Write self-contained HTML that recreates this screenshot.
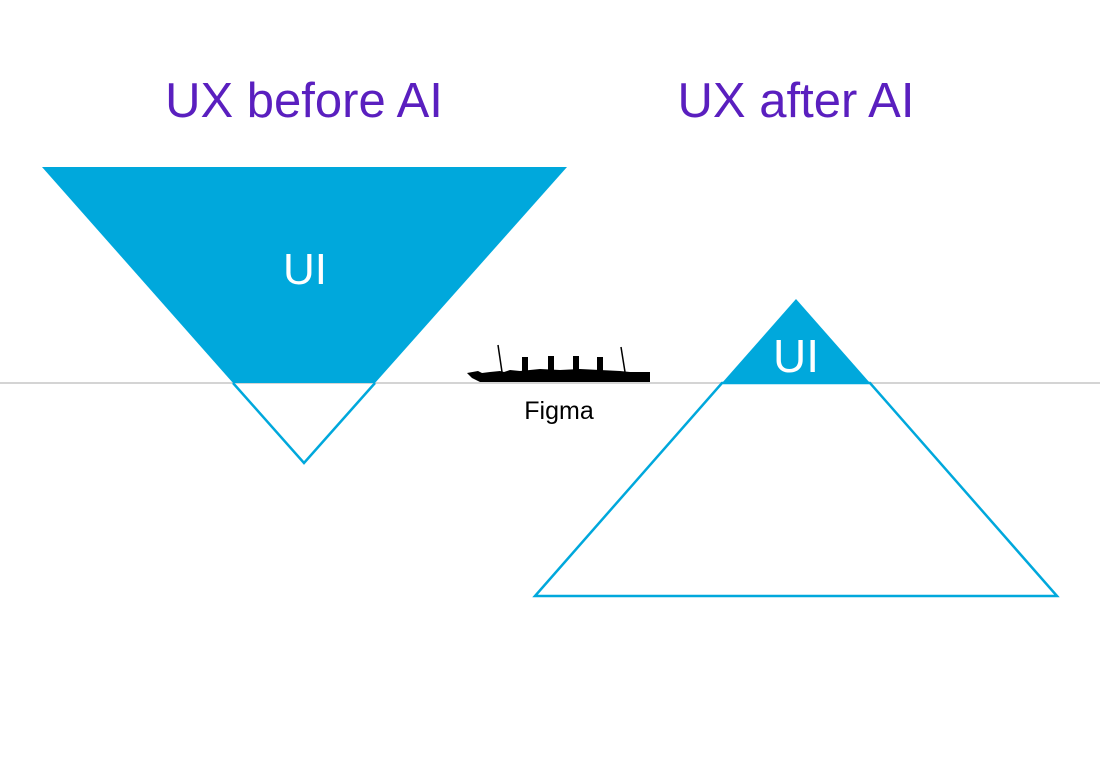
<!DOCTYPE html>
<html><head><meta charset="utf-8"><style>
html,body{margin:0;padding:0;background:#fff;}
svg{display:block;}
</style></head><body>
<svg width="1100" height="764" viewBox="0 0 1100 764" xmlns="http://www.w3.org/2000/svg">
<rect width="1100" height="764" fill="#fff"/>
<text x="304" y="117" text-anchor="middle" font-family="Liberation Sans, sans-serif" font-size="49" fill="#5a1fbf">UX before AI</text>
<text x="796" y="117" text-anchor="middle" font-family="Liberation Sans, sans-serif" font-size="49" fill="#5a1fbf">UX after AI</text>
<line x1="0" y1="383" x2="1100" y2="383" stroke="#d4d4d4" stroke-width="2"/>
<polygon points="42,167 567,167 375,383 233,383" fill="#00a8dc"/>
<polyline points="233,383 304,463 375,383" fill="none" stroke="#00a8dc" stroke-width="2.5"/>
<text x="305" y="284" text-anchor="middle" font-family="Liberation Sans, sans-serif" font-size="44" fill="#fff">UI</text>
<polygon points="796,299 870,383 722,383" fill="#00a8dc"/>
<polygon points="722,383 870,383 1057,596 535,596" fill="none" stroke="#00a8dc" stroke-width="2.5"/>
<text x="796" y="372" text-anchor="middle" font-family="Liberation Sans, sans-serif" font-size="46" fill="#fff">UI</text>
<g fill="#000">
<polygon points="467,373 478,371 482,373 490,372 500,371 504,372 510,370 520,371 540,369 560,370 580,369 600,370 620,371 630,372 650,372 650,382 480,382 472,378"/>
<rect x="522" y="357" width="6" height="14"/>
<rect x="548" y="356" width="6" height="15"/>
<rect x="573" y="356" width="6" height="15"/>
<rect x="597" y="357" width="6" height="14"/>
<line x1="498" y1="345" x2="502" y2="372" stroke="#000" stroke-width="1.5"/>
<line x1="621" y1="347" x2="625" y2="372" stroke="#000" stroke-width="1.5"/>
</g>
<text x="559" y="419" text-anchor="middle" font-family="Liberation Sans, sans-serif" font-size="25" fill="#000">Figma</text>
</svg>
</body></html>
